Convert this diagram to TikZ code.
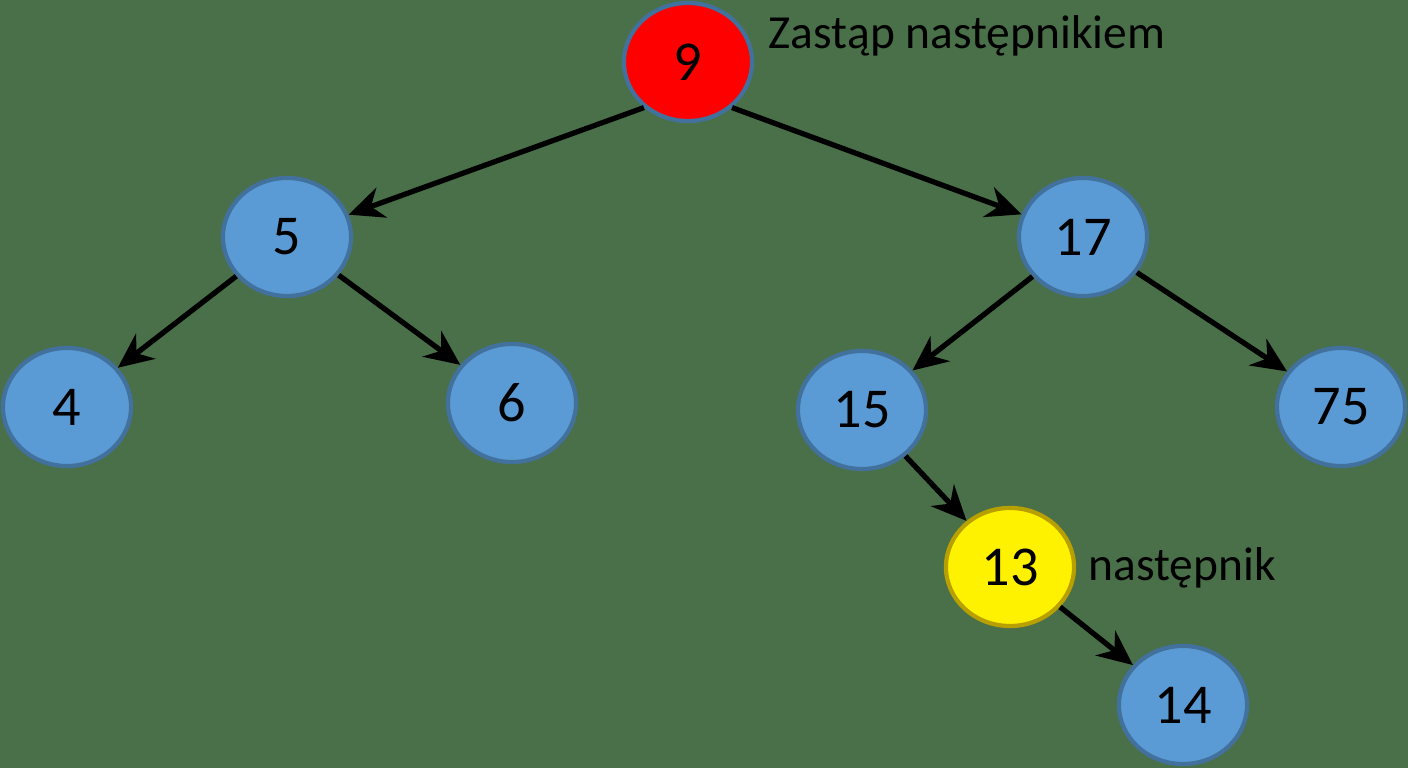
\documentclass[tikz,border=0pt]{standalone}
\usepackage{fontspec}
\setmainfont{Carlito}
\usetikzlibrary{shapes.geometric,arrows.meta}
\definecolor{bg}{HTML}{4A7049}
\definecolor{nblue}{HTML}{5B9BD5}
\definecolor{bblue}{HTML}{41719C}
\definecolor{bgold}{HTML}{B8A000}
\tikzset{
 nd/.style={ellipse,draw=bblue,line width=1.2pt,fill=nblue,minimum width=1.28cm,minimum height=1.18cm,inner sep=0pt,font=\fontsize{16pt}{18pt}\selectfont},
 red/.style={nd,fill=red},
 yel/.style={nd,fill=yellow,draw=bgold},
 ar/.style={-{Stealth[length=10pt,width=9pt]},line width=1.5pt,black},
 lbl/.style={anchor=west,inner sep=0pt,font=\fontsize{13.5pt}{15pt}\selectfont}
}
\begin{document}
\begin{tikzpicture}[x=0.01cm,y=-0.01cm]
\fill[bg] (0,0) rectangle (1408,768);
\useasboundingbox (0,0) rectangle (1408,768);
\node[red] (n9) at (688,62) {9};
\node[nd] (n5) at (287,237) {5};
\node[nd] (n17) at (1083,237) {17};
\node[nd] (n4) at (67,407) {4};
\node[nd] (n6) at (512,403) {6};
\node[nd] (n15) at (862,410) {15};
\node[nd] (n75) at (1341,407) {75};
\node[yel] (n13) at (1010,567) {13};
\node[nd] (n14) at (1183,705) {14};
\node[lbl] (t1) at (768,36) {Zastąp następnikiem};
\node[lbl] (t2) at (1088,568) {następnik};
\draw[ar] (n9.226) -- (n5);
\draw[ar] (n9.314) -- (n17);
\draw[ar] (n5) -- (n4);
\draw[ar] (n5) -- (n6);
\draw[ar] (n17) -- (n15);
\draw[ar] (n17) -- (n75);
\draw[ar] (n15) -- (n13);
\draw[ar] (n13) -- (n14);
\end{tikzpicture}
\end{document}
